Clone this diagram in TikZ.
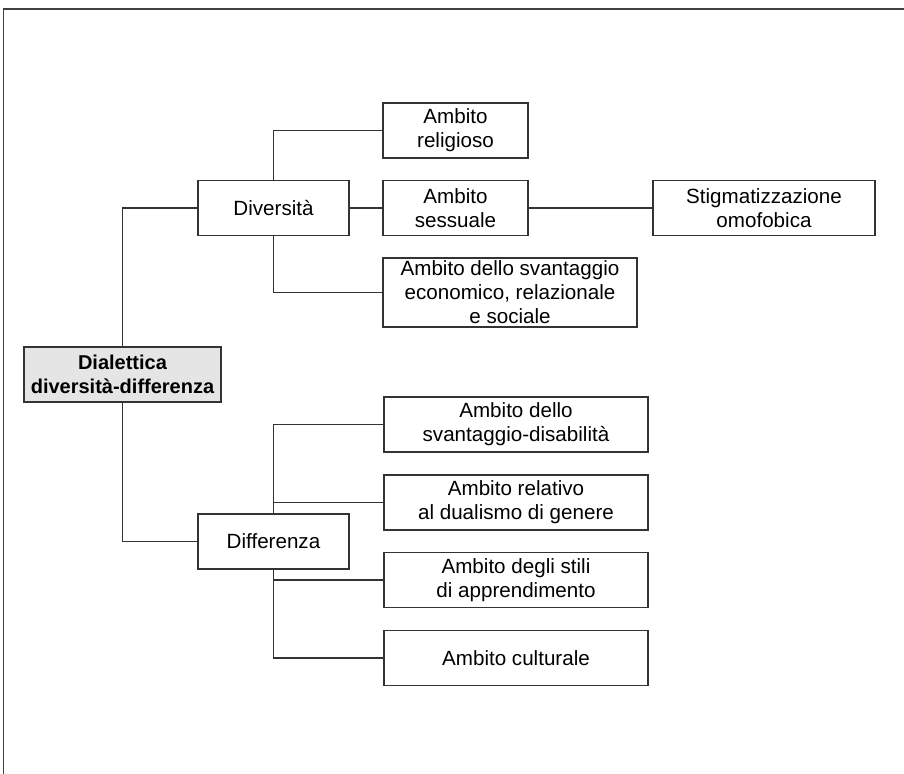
\documentclass[tikz,border=0pt]{standalone}
\usepackage{fontspec}
\setmainfont{Liberation Sans}
\begin{document}
\begin{tikzpicture}[x=0.5pt,y=-0.5pt,
	box/.style={draw=black!80,fill=white,align=center,inner sep=0pt,line width=0.55pt,
		font=\fontsize{10.3}{12}\selectfont,minimum height=27.5pt},
	wide/.style={box,minimum width=132pt},
	link/.style={draw=black!80,line width=0.55pt}]
	\useasboundingbox (0,0) rectangle (904,774);
	\draw [black!75,line width=0.6pt] (3.5,774) -- (3.5,9) -- (904,9);
	
	% root and the two branches
	\node[box,fill=black!10,font=\fontsize{10}{12}\selectfont\bfseries,minimum width=98.5pt] (root) at (122.5,374.5) {Dialettica\\diversità-differenza};
	\node[box,minimum width=75.5pt] (div) at (273.5,208) {Diversità};
	\node[box,minimum width=75.5pt] (diff) at (273.5,541.5) {Differenza};
	
	% diversita
	\node[box,minimum width=72.5pt] (rel) at (455.5,130.5) {Ambito\\religioso};
	\node[box,minimum width=72.5pt] (sex) at (455.5,208) {Ambito\\sessuale};
	\node[box,minimum width=111pt] (stig) at (764,208) {Stigmatizzazione\\omofobica};
	\node[box,minimum width=127pt,minimum height=34.5pt] (eco) at (510,292.5) {Ambito dello svantaggio\\economico, relazionale\\e sociale};
	
	% differenza
	\node[wide] (dis) at (516,424.5) {Ambito dello\\svantaggio-disabilità};
	\node[wide] (gen) at (516,502.5) {Ambito relativo\\al dualismo di genere};
	\node[wide] (sty) at (516,580) {Ambito degli stili\\di apprendimento};
	\node[wide] (cul) at (516,658) {Ambito culturale};
	
	\draw [link] (root.north) |- (div.west);
	\draw [link] (root.south) |- (diff.west);
	\draw [link] (div.north) |- (rel.west);
	\draw [link] (div.east) -- (sex.west);
	\draw [link] (sex.east) -- (stig.west);
	\draw [link] (div.south) |- (eco.west);
	\draw [link] (diff.north) |- (dis.west);
	\draw [link] (diff.north) |- (gen.west);
	\draw [link] (diff.south) |- (sty.west);
	\draw [link] (diff.south) |- (cul.west);
\end{tikzpicture}
\end{document}
